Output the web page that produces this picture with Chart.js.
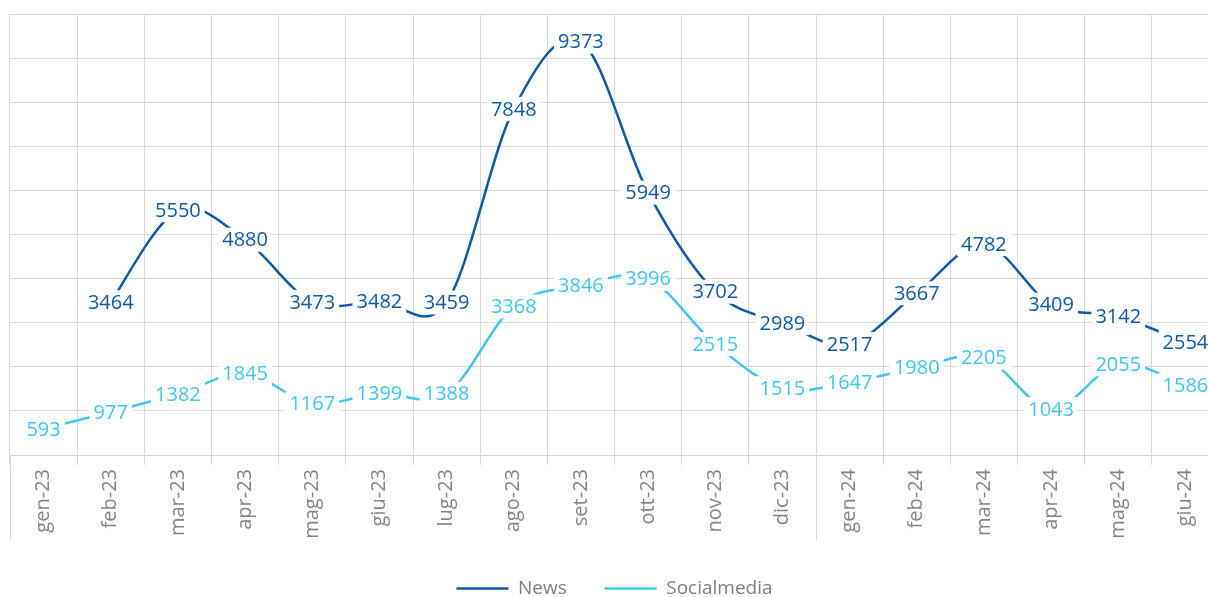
<!DOCTYPE html>
<html>
<head>
<meta charset="utf-8">
<script src="https://cdn.jsdelivr.net/npm/chart.js@4"></script>
<style>
  html, body { margin: 0; padding: 0; background: #fff; overflow: hidden; }
  #wrap { width: 1226px; height: 608px; }
</style>
</head>
<body>
<div id="wrap"><canvas id="chart" width="1226" height="608"></canvas></div>
<script>
// categories (months)
const months = ['gen-23', 'feb-23', 'mar-23', 'apr-23', 'mag-23', 'giu-23', 'lug-23', 'ago-23', 'set-23',
    'ott-23', 'nov-23', 'dic-23', 'gen-24', 'feb-24', 'mar-24', 'apr-24', 'mag-24', 'giu-24'];

// series values
const newsValues = [null, 3464, 5550, 4880, 3473, 3482, 3459, 7848, 9373,
    5949, 3702, 2989, 2517, 3667, 4782, 3409, 3142, 2554];
const socialValues = [593, 977, 1382, 1845, 1167, 1399, 1388, 3368, 3846,
    3996, 2515, 1515, 1647, 1980, 2205, 1043, 2055, 1586];

// first month of each year (long separator line below the axis)
const yearStarts = ['gen-23', 'gen-24'];

const gridColor = '#d9d9d9';
const font = '"Open Sans", "Noto Sans", sans-serif';

// office-style smoothing: uniform catmull-rom control points on the library's points
const smoothLines = {
    id: 'smoothLines',
    beforeDatasetsDraw(chart) {
        chart.data.datasets.forEach((ds, i) => {
            const line = chart.getDatasetMeta(i).dataset;
            line.updateControlPoints(chart.chartArea, 'x');
            const pts = line.points.filter(p => !p.skip);
            pts.forEach((p, k) => {
                const prev = pts[k - 1] || p;
                const next = pts[k + 1] || p;
                const dx = (next.x - prev.x) / 6;
                const dy = (next.y - prev.y) / 6;
                p.cp1x = p.x - dx;
                p.cp1y = p.y - dy;
                p.cp2x = p.x + dx;
                p.cp2y = p.y + dy;
            });
            delete line._path;
        });
    }
};

// value labels with white box, drawn on top of the lines
const valueLabels = {
    id: 'valueLabels',
    afterDatasetsDraw(chart) {
        const ctx = chart.ctx;
        ctx.save();
        ctx.font = '20px ' + font;
        ctx.textAlign = 'center';
        ctx.textBaseline = 'middle';
        chart.data.datasets.forEach((ds, i) => {
            const meta = chart.getDatasetMeta(i);
            meta.data.forEach((pt, j) => {
                const v = ds.data[j];
                if (v === null || v === undefined) return;
                const txt = String(v);
                const w = ctx.measureText(txt).width;
                ctx.fillStyle = '#ffffff';
                ctx.fillRect(pt.x - w / 2 - 4, pt.y - 12, w + 8, 24);
                ctx.fillStyle = ds.borderColor;
                ctx.fillText(txt, pt.x, pt.y + 1);
            });
        });
        ctx.restore();
    }
};

// long separator lines under the axis at the start of each year
const yearLines = {
    id: 'yearLines',
    afterDraw(chart) {
        const x = chart.scales.x;
        const ctx = chart.ctx;
        const half = (x.getPixelForValue(1) - x.getPixelForValue(0)) / 2;
        ctx.save();
        ctx.strokeStyle = gridColor;
        ctx.lineWidth = 1;
        yearStarts.forEach(m => {
            const px = Math.round(x.getPixelForValue(months.indexOf(m)) - half) + 0.5;
            ctx.beginPath();
            ctx.moveTo(px, chart.chartArea.bottom);
            ctx.lineTo(px, chart.chartArea.bottom + 85);
            ctx.stroke();
        });
        ctx.restore();
    }
};

new Chart(document.getElementById('chart'), {
    type: 'line',
    data: {
        labels: months,
        datasets: [
            {
                label: 'News',
                data: newsValues,
                borderColor: '#0c5ba8',
                backgroundColor: '#0c5ba8',
                borderWidth: 2.5,
                pointRadius: 0,
                tension: 0.4
            },
            {
                label: 'Socialmedia',
                data: socialValues,
                borderColor: '#41c6f2',
                backgroundColor: '#41c6f2',
                borderWidth: 2.5,
                pointRadius: 0,
                tension: 0.4
            }
        ]
    },
    options: {
        responsive: false,
        animation: false,
        layout: { padding: { left: 10, right: 7, top: 14, bottom: 0 } },
        plugins: {
            legend: {
                position: 'bottom',
                labels: {
                    usePointStyle: true,
                    pointStyle: 'line',
                    pointStyleWidth: 52,
                    color: '#7f7f7f',
                    font: { family: font, size: 19 },
                    padding: 38
                }
            },
            tooltip: { enabled: false }
        },
        scales: {
            x: {
                offset: true,
                grid: { offset: true, color: gridColor, tickLength: 10 },
                border: { color: gridColor },
                ticks: {
                    color: '#858585',
                    font: { family: font, size: 20 },
                    minRotation: 90,
                    maxRotation: 90,
                    padding: 4
                },
                afterFit(scale) { scale.height = 86; }
            },
            y: {
                min: 0,
                max: 10000,
                ticks: { display: false, stepSize: 1000 },
                grid: { color: gridColor, drawTicks: false },
                border: { display: false }
            }
        }
    },
    plugins: [smoothLines, valueLabels, yearLines]
});
</script>
</body>
</html>
